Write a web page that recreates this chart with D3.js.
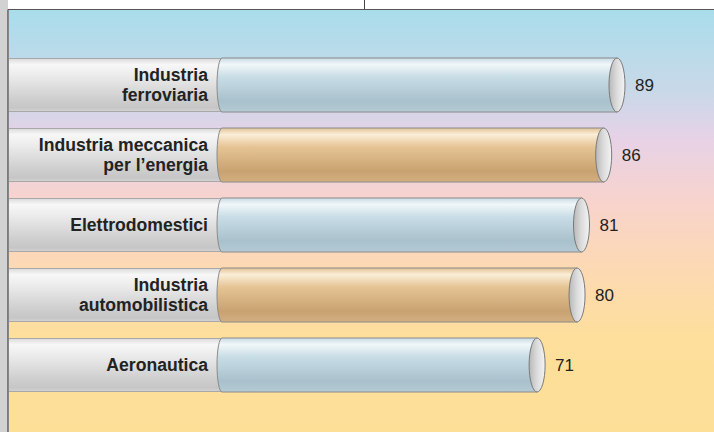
<!DOCTYPE html>
<html><head><meta charset="utf-8">
<script src="https://cdn.jsdelivr.net/npm/d3@7"></script>
<style>body{margin:0;background:#fff}svg{display:block}</style>
</head><body>
<script>
const categories = ["Industria\nferroviaria","Industria meccanica\nper l’energia","Elettrodomestici","Industria\nautomobilistica","Aeronautica"];
const values = [89, 86, 81, 80, 71];
const barColors = ["blue","tan","blue","tan","blue"];

const W = 714, H = 432;
const svg = d3.select("body").append("svg").attr("width", W).attr("height", H);
const defs = svg.append("defs");

function grad(id, stops, vertical = true) {
  const g = defs.append("linearGradient").attr("id", id)
    .attr("x1", 0).attr("y1", 0).attr("x2", vertical ? 0 : 1).attr("y2", vertical ? 1 : 0);
  stops.forEach(([o, c]) => g.append("stop").attr("offset", o).attr("stop-color", c));
}
grad("bg", [[0,"#a9ddeb"],[0.2,"#cad8e8"],[0.3,"#e6d2e7"],[0.45,"#f7d3cd"],[0.62,"#fdd9b2"],[0.78,"#fedf9b"],[1,"#fedf98"]]);
grad("gray", [[0,"#d8d8d8"],[0.12,"#f7f7f7"],[0.3,"#ededed"],[0.75,"#cfcfcf"],[0.92,"#c6c6c6"],[1,"#d4d4d4"]]);
grad("blue", [[0,"#c9dce5"],[0.12,"#f1f7f9"],[0.35,"#c8dde6"],[0.8,"#a9c1cc"],[1,"#b4cbd5"]]);
grad("tan", [[0,"#e2c294"],[0.12,"#fbeed9"],[0.35,"#e6c494"],[0.8,"#c9a271"],[1,"#d2ae80"]]);
grad("cap", [[0,"#b8b8b8"],[0.5,"#dcdcdc"],[1,"#f4f4f4"]], false);

// frame
svg.append("rect").attr("x",0).attr("y",0).attr("width",8).attr("height",H).attr("fill","#d2d2d2");
svg.append("rect").attr("x",9).attr("y",10).attr("width",W-9).attr("height",H-10).attr("fill","url(#bg)");
svg.append("line").attr("x1",8).attr("x2",8).attr("y1",9.5).attr("y2",H).attr("stroke","#666").attr("stroke-width",1.6);
svg.append("line").attr("x1",8).attr("x2",W).attr("y1",9.5).attr("y2",9.5).attr("stroke","#555").attr("stroke-width",1.2);
svg.append("line").attr("x1",364.5).attr("x2",364.5).attr("y1",0).attr("y2",9).attr("stroke","#444").attr("stroke-width",1);

const x = d3.scaleLinear().domain([0, 100]).range([222, 222 + 100 * 395 / 89]);
const y = d3.scaleBand().domain(categories).range([50, 400]).paddingInner(16/70).paddingOuter(8/70);
const bh = y.bandwidth();
const rxL = 5, rxCap = 8;

const g = svg.append("g");
const rows = g.selectAll("g.row").data(categories.map((c,i)=>({c, v: values[i], col: barColors[i]})))
  .join("g").attr("class","row");

// label cylinder
rows.append("rect").attr("x", 9).attr("y", d => y(d.c)).attr("width", d => x(0) - 9 + 2).attr("height", bh)
  .attr("fill","url(#gray)");
rows.append("line").attr("x1",9).attr("x2",x(0)).attr("y1",d=>y(d.c)+0.5).attr("y2",d=>y(d.c)+0.5).attr("stroke","#a8a8a8");
rows.append("line").attr("x1",9).attr("x2",x(0)).attr("y1",d=>y(d.c)+bh-0.5).attr("y2",d=>y(d.c)+bh-0.5).attr("stroke","#a8a8a8");

// value bar body
rows.append("path").attr("d", d => {
  const y0 = y(d.c), y1 = y0 + bh, x0 = x(0), x1 = x(d.v);
  return `M${x0},${y0} L${x1},${y0} L${x1},${y1} L${x0},${y1} A${rxL},${bh/2} 0 0 1 ${x0},${y0} Z`;
}).attr("fill", d => `url(#${d.col})`).attr("stroke","#8a8a8a").attr("stroke-width",1);

// end cap
rows.append("ellipse").attr("cx", d => x(d.v)).attr("cy", d => y(d.c) + bh/2)
  .attr("rx", rxCap).attr("ry", bh/2).attr("fill","url(#cap)").attr("stroke","#7a7a7a").attr("stroke-width",1);

// category labels
rows.append("text").attr("text-anchor","end").attr("font-family","Liberation Sans, Arial, sans-serif")
  .attr("font-weight","bold").attr("font-size",17.6).attr("fill","#222")
  .each(function(d){
    const lines = d.c.split("\n");
    const cy = y(d.c) + bh/2;
    const t = d3.select(this);
    lines.forEach((ln, k) => {
      const base = lines.length === 1 ? cy + 6 : cy - 4 + k * 20;
      t.append("tspan").attr("x", 208).attr("y", base).text(ln);
    });
  });

// value labels
rows.append("text").attr("x", d => x(d.v) + 18).attr("y", d => y(d.c) + bh/2 + 6)
  .attr("font-family","Liberation Sans, Arial, sans-serif").attr("font-size",17).attr("fill","#222")
  .text(d => d.v);
</script>
</body></html>
